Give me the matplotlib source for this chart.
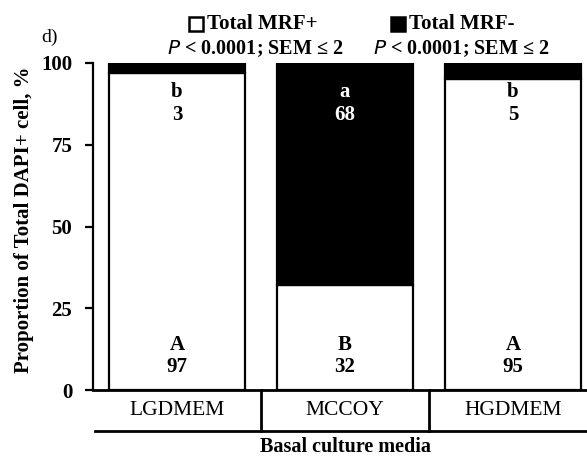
import matplotlib.pyplot as plt
from matplotlib.patches import Rectangle

# Proportion of total DAPI+ cells by basal culture medium
media = ["LGDMEM", "MCCOY", "HGDMEM"]
mrf_pos = [97, 32, 95]          # Total MRF+ (%)
mrf_neg = [3, 68, 5]            # Total MRF- (%)
letters_pos = ["A", "B", "A"]
letters_neg = ["b", "a", "b"]
y_ticks = [0, 25, 50, 75, 100]

plt.rcParams["font.family"] = ["Liberation Serif", "DejaVu Serif"]

fig = plt.figure(figsize=(5.87, 4.59), dpi=100)
ax = fig.add_axes([93 / 587, 69 / 459, 504 / 587, 327 / 459])

x = range(len(media))
width = 0.81
ax.bar(x, mrf_pos, width=width, color="white", edgecolor="black", linewidth=1.6)
ax.bar(x, mrf_neg, width=width, bottom=mrf_pos, color="black",
       edgecolor="black", linewidth=1.6)

# significance letters and values
fs = 15
for i in x:
    top_col = "white" if mrf_neg[i] > 50 else "black"
    ax.text(i, 91, letters_neg[i], ha="center", va="center", fontsize=fs,
            fontweight="bold", color=top_col)
    ax.text(i, 84, str(mrf_neg[i]), ha="center", va="center", fontsize=fs,
            fontweight="bold", color=top_col)
    ax.text(i, 13.8, letters_pos[i], ha="center", va="center", fontsize=fs,
            fontweight="bold")
    ax.text(i, 6.9, str(mrf_pos[i]), ha="center", va="center", fontsize=fs,
            fontweight="bold")

ax.set_xlim(-0.5, 2.5)
ax.set_ylim(0, 100)
ax.set_yticks(y_ticks)
ax.set_yticklabels([str(t) for t in y_ticks], fontsize=15, fontweight="bold")
ax.tick_params(axis="y", direction="out", length=6, width=1.6, pad=9)
ax.set_xticks([])
for side in ["top", "right"]:
    ax.spines[side].set_visible(False)
ax.spines["left"].set_linewidth(1.6)
ax.spines["bottom"].set_linewidth(2)
ax.set_ylabel("Proportion of Total DAPI+ cell, %", fontsize=15,
              fontweight="bold")
ax.yaxis.set_label_coords(-0.118, 0.52)

# category table under the axis
trans = ax.get_xaxis_transform()
row_y = -0.125
for b in [0.5, 1.5]:
    ax.plot([b, b], [0, row_y], color="black", lw=2, transform=trans,
            clip_on=False)
ax.plot([-0.49, 2.6], [row_y, row_y], color="black", lw=2, transform=trans,
        clip_on=False)
for i, m in enumerate(media):
    ax.text(i, -0.062, m, ha="center", va="center", fontsize=15.5,
            transform=trans)
fig.text(345 / 587, 2 / 459, "Basal culture media", ha="center",
         va="bottom", fontsize=14.5, fontweight="bold")

# legend drawn at the top
fig.text(41 / 587, 1 - 37 / 459, "d)", fontsize=14, ha="left", va="center")
legend_items = [("Total MRF+", "white", 196, 255), ("Total MRF-", "black", 398, 461)]
for label, fill, sq_x, cx in legend_items:
    fig.patches.append(Rectangle((sq_x / 587 - 7 / 587, 1 - 31 / 459),
                                 14 / 587, 14 / 459, facecolor=fill,
                                 edgecolor="black", linewidth=1.8,
                                 transform=fig.transFigure))
    fig.text((sq_x + 11) / 587, 1 - 24 / 459, label, fontsize=15,
             fontweight="bold", ha="left", va="center")
    fig.text(cx / 587, 1 - 49 / 459,
             r"$\mathbf{\mathit{P}}$ < 0.0001; SEM ≤ 2", fontsize=14.5,
             fontweight="bold", ha="center", va="center")

fig.savefig("out.png", dpi=100)
